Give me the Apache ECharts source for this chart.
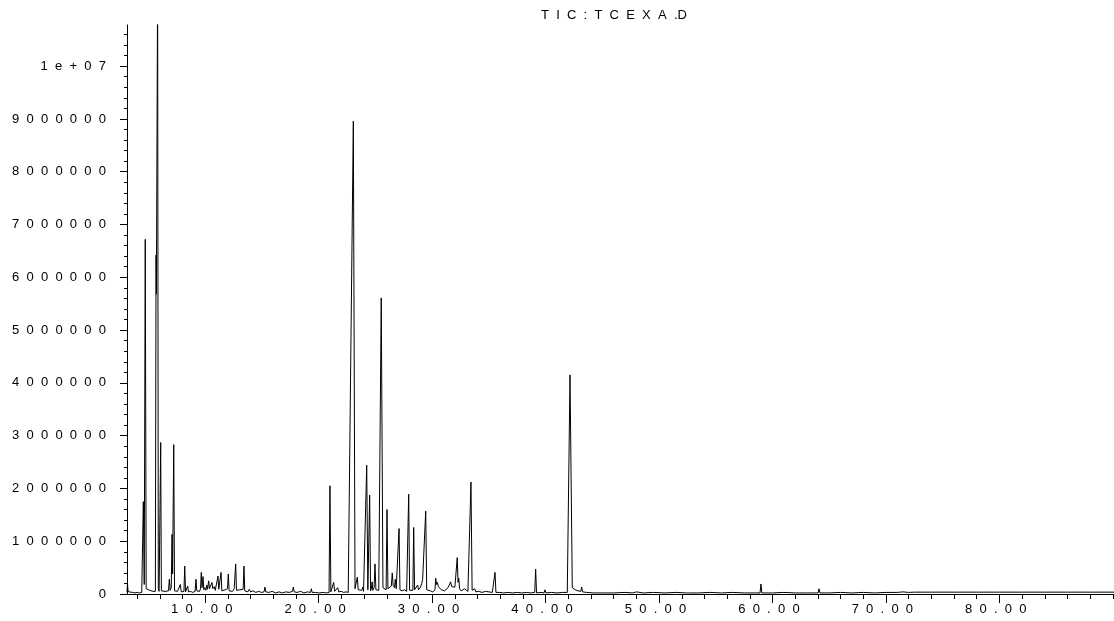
<!DOCTYPE html>
<html><head><meta charset="utf-8">
<script src="https://cdn.jsdelivr.net/npm/echarts@6/dist/echarts.min.js"></script>
<style>html,body{margin:0;padding:0;background:#fff}#c{width:1114px;height:621px}</style>
</head><body><div id="c"></div>
<script>
// ---- Data (retention time in minutes, TIC abundance in millions of counts) ----
const chartTitle = 'TIC: TCEXA.D';

const rtSeg1 = [3.10, 3.14, 3.18, 3.26, 3.40, 3.60, 3.80, 4.00, 4.20, 4.40, 4.48, 4.54, 4.62, 4.71, 4.79, 4.86, 4.95, 5.10, 5.25, 5.40, 5.52, 5.60, 5.66, 5.69, 5.80, 5.86, 5.93, 6.01, 6.07, 6.13, 6.25, 6.45, 6.62, 6.76, 6.83, 6.90, 7.00, 7.07, 7.12, 7.22, 7.29, 7.40, 7.55, 7.72, 7.80, 7.88, 8.00, 8.12, 8.19, 8.26, 8.38, 8.45, 8.52, 8.70];
const ticSeg1 = [0.03, 0.21, 0.08, 0.04, 0.02, 0.03, 0.02, 0.03, 0.02, 0.03, 0.05, 1.75, 0.18, 6.72, 0.10, 0.09, 0.08, 0.07, 0.06, 0.05, 0.04, 0.05, 6.42, 5.68, 11.6, 0.10, 0.05, 0.07, 2.87, 0.06, 0.03, 0.05, 0.04, 0.06, 0.28, 0.07, 0.12, 1.13, 0.38, 2.83, 0.06, 0.04, 0.05, 0.03, 0.18, 0.04, 0.06, 0.05, 0.53, 0.04, 0.06, 0.15, 0.04, 0.05];

const rtSeg2 = [8.90, 9.10, 9.18, 9.25, 9.40, 9.50, 9.58, 9.65, 9.71, 9.80, 9.87, 9.95, 10.05, 10.13, 10.20, 10.30, 10.37, 10.45, 10.52, 10.59, 10.66, 10.80, 10.88, 10.98, 11.05, 11.12, 11.19, 11.30, 11.39, 11.46, 11.60, 11.75, 11.90, 11.96, 12.03, 12.10, 12.25, 12.40, 12.55, 12.61, 12.68, 12.75, 12.90, 13.05, 13.20, 13.34, 13.41, 13.48, 13.60, 13.75, 13.88, 14.00, 14.20, 14.45, 14.70, 14.95, 15.18, 15.26, 15.34, 15.60, 15.90, 16.20, 16.50, 16.80, 17.10, 17.40, 17.68, 17.76, 17.84, 18.10, 18.40, 18.70, 19.00, 19.28, 19.35, 19.42, 19.70, 19.87, 20.05, 20.40, 20.70];
const ticSeg2 = [0.03, 0.05, 0.28, 0.06, 0.08, 0.05, 0.10, 0.41, 0.12, 0.33, 0.08, 0.12, 0.07, 0.17, 0.09, 0.25, 0.10, 0.13, 0.08, 0.22, 0.10, 0.14, 0.07, 0.09, 0.10, 0.34, 0.09, 0.12, 0.41, 0.06, 0.05, 0.08, 0.06, 0.10, 0.38, 0.06, 0.07, 0.05, 0.10, 0.12, 0.57, 0.07, 0.06, 0.08, 0.05, 0.09, 0.53, 0.06, 0.07, 0.04, 0.09, 0.04, 0.06, 0.03, 0.05, 0.03, 0.04, 0.13, 0.04, 0.03, 0.05, 0.02, 0.04, 0.02, 0.04, 0.03, 0.05, 0.13, 0.04, 0.03, 0.05, 0.02, 0.04, 0.03, 0.10, 0.03, 0.03, 0.06, 0.02, 0.03, 0.02];

const rtSeg3 = [20.91, 20.99, 21.07, 21.20, 21.32, 21.40, 21.55, 21.67, 21.76, 21.99, 22.20, 22.40, 22.60, 22.69, 23.05, 23.20, 23.30, 23.40, 23.48, 23.65, 23.80, 23.88, 23.95, 24.10, 24.23, 24.33, 24.40, 24.49, 24.57, 24.64, 24.70, 24.77, 24.88, 24.96, 25.04, 25.20, 25.29, 25.51, 25.66, 25.75, 25.94, 26.02, 26.10, 26.25, 26.40, 26.48, 26.56, 26.68, 26.75, 26.83, 27.00, 27.08, 27.16, 27.35, 27.55, 27.75, 27.86, 27.93, 28.01, 28.15, 28.30, 28.37, 28.45, 28.58, 28.72, 28.80, 28.95, 29.08, 29.16, 29.23, 29.30, 29.43, 29.52, 29.65, 29.85, 30.05, 30.25, 30.31, 30.38, 30.45, 30.55, 30.69, 30.80, 30.95, 31.10, 31.25, 31.40, 31.55, 31.63, 31.72, 31.85, 32.00, 32.10, 32.21, 32.28, 32.34, 32.42, 32.55, 32.70, 32.85, 33.00, 33.15, 33.32, 33.42, 33.52, 33.62, 33.75, 33.85, 34.10, 34.40, 34.70, 35.00, 35.30, 35.46, 35.54, 35.62];
const ticSeg3 = [0.03, 2.05, 0.04, 0.05, 0.22, 0.05, 0.06, 0.12, 0.04, 0.05, 0.03, 0.04, 0.03, 0.04, 8.96, 0.10, 0.08, 0.32, 0.08, 0.06, 0.07, 0.13, 0.05, 0.06, 2.44, 0.08, 0.08, 1.875, 0.06, 0.10, 0.23, 0.07, 0.12, 0.57, 0.08, 0.06, 0.07, 5.61, 0.12, 0.10, 0.08, 1.60, 0.10, 0.12, 0.15, 0.40, 0.16, 0.12, 0.28, 0.10, 0.08, 1.24, 0.08, 0.06, 0.08, 0.05, 0.07, 1.89, 0.07, 0.10, 0.07, 1.26, 0.08, 0.06, 0.17, 0.08, 0.12, 0.20, 0.28, 0.25, 0.30, 1.57, 0.08, 0.05, 0.06, 0.04, 0.08, 0.30, 0.18, 0.22, 0.14, 0.15, 0.08, 0.10, 0.06, 0.09, 0.12, 0.15, 0.23, 0.14, 0.12, 0.13, 0.15, 0.69, 0.22, 0.30, 0.10, 0.06, 0.08, 0.10, 0.07, 0.05, 0.06, 2.12, 0.07, 0.05, 0.10, 0.04, 0.05, 0.03, 0.05, 0.04, 0.03, 0.04, 0.41, 0.03];

const rtSeg4 = [35.90, 36.30, 36.70, 37.10, 37.50, 37.90, 38.30, 38.70, 39.04, 39.12, 39.20, 39.60, 39.86, 39.94, 40.02, 40.50, 41.00, 41.50, 41.91, 42.15, 42.35, 42.60, 42.85, 43.10, 43.18, 43.26, 43.60, 44.20, 44.97, 45.03, 45.10, 46.00, 47.00, 47.70, 48.00, 48.60, 49.50, 50.50, 51.50, 52.40, 52.50, 52.60, 53.50, 54.50, 55.50, 56.50, 57.50, 58.90, 58.98, 59.06, 60.00, 61.00, 62.00, 63.00, 64.02, 64.10, 64.18, 65.00, 66.00, 67.00, 68.00, 69.00, 70.00, 71.00, 71.50, 72.00, 72.50, 73.00, 73.09, 73.18, 74.00, 76.00, 78.00, 80.00, 82.00, 84.00, 86.00, 88.00, 90.10];
const ticSeg4 = [0.03, 0.02, 0.03, 0.02, 0.03, 0.02, 0.03, 0.02, 0.03, 0.47, 0.02, 0.03, 0.02, 0.08, 0.02, 0.03, 0.02, 0.03, 0.03, 4.15, 0.12, 0.08, 0.06, 0.05, 0.13, 0.04, 0.03, 0.02, 0.02, 0.04, 0.02, 0.02, 0.03, 0.02, 0.04, 0.02, 0.03, 0.02, 0.03, 0.02, 0.05, 0.02, 0.02, 0.03, 0.02, 0.03, 0.02, 0.02, 0.19, 0.02, 0.02, 0.03, 0.02, 0.02, 0.02, 0.10, 0.02, 0.02, 0.03, 0.02, 0.03, 0.02, 0.03, 0.03, 0.04, 0.03, 0.035, 0.035, 0.06, 0.035, 0.035, 0.035, 0.035, 0.035, 0.035, 0.035, 0.035, 0.035, 0.035];

// ---- Axis tick labels ----
const xLabelValues = [10, 20, 30, 40, 50, 60, 70, 80];
const xTickLabels = ['10.00', '20.00', '30.00', '40.00', '50.00', '60.00', '70.00', '80.00'];
const xMinorTickValues = [4, 6, 8, 12, 14, 16, 18, 22, 24, 26, 28, 32, 34, 36, 38, 42, 44, 46, 48, 52, 54, 56, 58, 62, 64, 66, 68, 72, 74, 76, 78, 82, 84, 86, 88, 90];
const yLabelValues = [0, 1, 2, 3, 4, 5, 6, 7, 8, 9, 10];
const yTickLabels = ['0', '1000000', '2000000', '3000000', '4000000', '5000000', '6000000', '7000000', '8000000', '9000000', '1e+07'];
const yMinorTickValues = [];
for (let k = 1; k <= 53; k++) { if (k % 5 !== 0) yMinorTickValues.push(Math.round(k * 2) / 10); }

// ---- Build ----
function spaced(s) { return s.split('').join('  '); }
const trace = [];
[[rtSeg1, ticSeg1], [rtSeg2, ticSeg2], [rtSeg3, ticSeg3], [rtSeg4, ticSeg4]].forEach(([rt, v]) => {
  rt.forEach((t, i) => trace.push([t, v[i]]));
});

const FONT = "'Liberation Sans', Arial, sans-serif";
const X_MIN = 3.1, X_MAX = 90.1, Y_MIN = 0, Y_MAX = 10.78;

const chart = echarts.init(document.getElementById('c'), null, { renderer: 'canvas' });
chart.setOption({
  animation: false,
  backgroundColor: '#ffffff',
  title: {
    text: 'T  I  C  :  T  C  E  X  A  .D',
    left: 541, top: 9, padding: 0,
    textStyle: { fontFamily: FONT, fontSize: 13, fontWeight: 'normal', color: '#000' }
  },
  grid: { left: 127, right: 0, top: 25, bottom: 27, containLabel: false },
  xAxis: [
    {
      type: 'value', min: X_MIN, max: X_MAX, position: 'bottom',
      axisLine: { show: true, onZero: false, lineStyle: { color: '#000', width: 1 } },
      axisTick: { show: true, length: 9, inside: false, customValues: xLabelValues, lineStyle: { color: '#000', width: 1 } },
      axisLabel: {
        show: true, customValues: xLabelValues, margin: 9,
        fontFamily: FONT, fontSize: 13, color: '#000',
        formatter: v => { const i = xLabelValues.indexOf(Math.round(v)); return i >= 0 ? spaced(xTickLabels[i]) + '  ' : ''; }
      },
      splitLine: { show: false }
    },
    {
      type: 'value', min: X_MIN, max: X_MAX, position: 'bottom', offset: 0,
      axisLine: { show: false, onZero: false },
      axisTick: { show: true, length: 5, inside: false, customValues: xMinorTickValues, lineStyle: { color: '#000', width: 1 } },
      axisLabel: { show: false },
      splitLine: { show: false }
    }
  ],
  yAxis: [
    {
      type: 'value', min: Y_MIN, max: Y_MAX, position: 'left',
      axisLine: { show: true, onZero: false, lineStyle: { color: '#000', width: 1 } },
      axisTick: { show: true, length: 7, inside: false, customValues: yLabelValues, lineStyle: { color: '#000', width: 1 } },
      axisLabel: {
        show: true, customValues: yLabelValues, margin: 21,
        fontFamily: FONT, fontSize: 13, color: '#000',
        formatter: v => { const i = yLabelValues.indexOf(Math.round(v)); return i >= 0 ? spaced(yTickLabels[i]) : ''; }
      },
      splitLine: { show: false }
    },
    {
      type: 'value', min: Y_MIN, max: Y_MAX, position: 'left', offset: 0,
      axisLine: { show: false, onZero: false },
      axisTick: { show: true, length: 3, inside: false, customValues: yMinorTickValues, lineStyle: { color: '#000', width: 1 } },
      axisLabel: { show: false },
      splitLine: { show: false }
    }
  ],
  series: [{
    type: 'line', xAxisIndex: 0, yAxisIndex: 0,
    data: trace, showSymbol: false, symbol: 'none', clip: true,
    lineStyle: { color: '#000', width: 1 },
    emphasis: { disabled: true }
  }]
});
</script></body></html>
